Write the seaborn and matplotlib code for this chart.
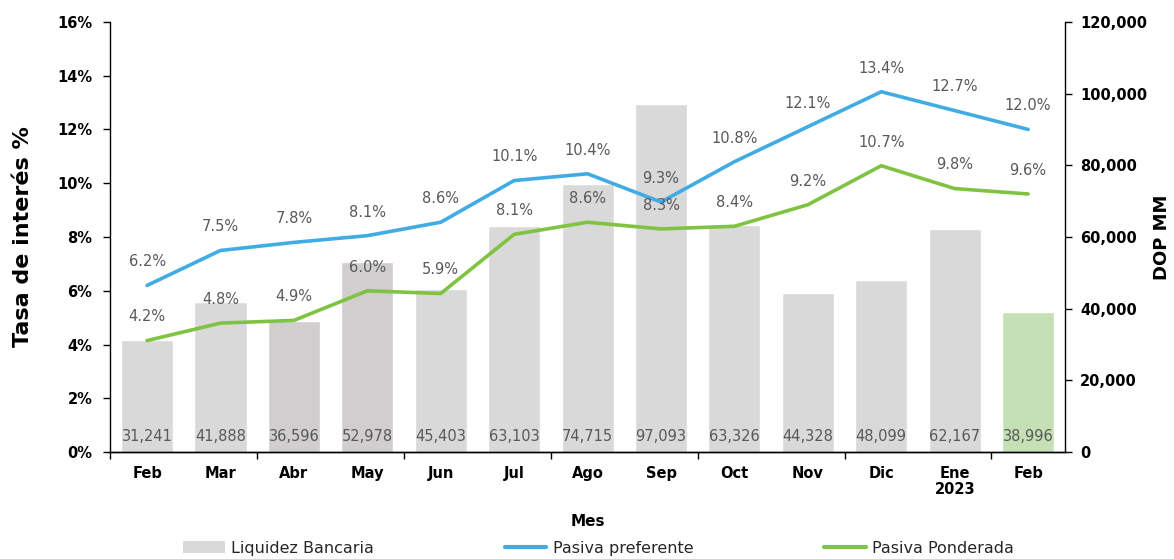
import numpy as np
import matplotlib
matplotlib.use('Agg')
import matplotlib.pyplot as plt
import seaborn as sns
from matplotlib.patches import Patch
from matplotlib.lines import Line2D
from matplotlib.ticker import FuncFormatter, FixedLocator

# Datos del gráfico
meses = ['Feb', 'Mar', 'Abr', 'May', 'Jun', 'Jul', 'Ago', 'Sep', 'Oct', 'Nov', 'Dic', 'Ene\n2023', 'Feb']
liquidez = [31241, 41888, 36596, 52978, 45403, 63103, 74715, 97093, 63326, 44328, 48099, 62167, 38996]
pasiva_preferente = [6.2, 7.5, 7.8, 8.05, 8.55, 10.1, 10.35, 9.3, 10.8, 12.1, 13.4, 12.7, 12.0]
pasiva_ponderada = [4.15, 4.8, 4.9, 6.0, 5.9, 8.1, 8.55, 8.3, 8.4, 9.2, 10.65, 9.8, 9.6]
etiq_preferente = ['6.2%', '7.5%', '7.8%', '8.1%', '8.6%', '10.1%', '10.4%', '9.3%', '10.8%', '12.1%', '13.4%', '12.7%', '12.0%']
etiq_ponderada = ['4.2%', '4.8%', '4.9%', '6.0%', '5.9%', '8.1%', '8.6%', '8.3%', '8.4%', '9.2%', '10.7%', '9.8%', '9.6%']

AZUL = '#41ace4'
VERDE = '#80c342'
GRIS = '#d9d9d9'
GRIS_OSC = '#d0cece'
VERDE_CLARO = '#c5e0b4'
TEXTO = '#595959'

sns.set_style('white')
plt.rcParams['font.family'] = ['DejaVu Sans']

pos = np.arange(len(meses))
colores_barras = [GRIS, GRIS, GRIS_OSC, GRIS_OSC] + [GRIS] * 8 + [VERDE_CLARO]

fig, ax = plt.subplots(figsize=(11.74, 5.59), dpi=100)
fig.subplots_adjust(left=0.094, right=0.907, top=0.961, bottom=0.191)
ax2 = ax.twinx()

# Barras en el eje derecho
sns.barplot(x=pos, y=liquidez, hue=pos, palette=colores_barras, legend=False,
            width=0.71, saturation=1, ax=ax2)
for i, v in enumerate(liquidez):
    ax2.text(i, 0.037, f'{v:,}', transform=ax2.get_xaxis_transform(),
             ha='center', va='center', fontsize=10.5, color=TEXTO)

# Lineas en el eje izquierdo
sns.lineplot(x=pos, y=pasiva_preferente, color=AZUL, linewidth=2.6, ax=ax)
sns.lineplot(x=pos, y=pasiva_ponderada, color=VERDE, linewidth=2.6, ax=ax)
for i in pos:
    ax.annotate(etiq_preferente[i], (i, pasiva_preferente[i]), xytext=(0, 17),
                textcoords='offset points', ha='center', va='center', fontsize=10.5, color=TEXTO)
    ax.annotate(etiq_ponderada[i], (i, pasiva_ponderada[i]), xytext=(0, 17),
                textcoords='offset points', ha='center', va='center', fontsize=10.5, color=TEXTO)

ax.set_zorder(ax2.get_zorder() + 1)
ax.patch.set_visible(False)

ax.set_xlim(-0.5, len(meses) - 0.5)
ax.set_ylim(0, 16)
ax2.set_ylim(0, 120000)
ax.set_yticks(np.arange(0, 17, 2))
ax.yaxis.set_major_formatter(FuncFormatter(lambda v, p: f'{v:.0f}%'))
ax2.set_yticks(np.arange(0, 120001, 20000))
ax2.yaxis.set_major_formatter(FuncFormatter(lambda v, p: f'{v:,.0f}'))

ax.set_xticks(pos)
ax.set_xticklabels(meses, fontweight='bold', fontsize=10.5, va='top', linespacing=1.1)
ax.xaxis.set_minor_locator(FixedLocator(np.arange(-0.5, 12, 2)))
ax.tick_params(axis='x', which='major', length=0, pad=10, bottom=True, labelbottom=True,
               labelcolor='black')
ax.tick_params(axis='x', which='minor', length=5, width=1, direction='out', color='black', bottom=True)

for a in (ax, ax2):
    for s in ['left', 'right', 'bottom']:
        a.spines[s].set_color('black')
        a.spines[s].set_linewidth(1)
    a.spines['top'].set_visible(False)
ax.spines['right'].set_visible(False)
ax2.spines['left'].set_visible(False)

ax.tick_params(axis='y', length=5, width=1, color='black', left=True, labelsize=10.5,
               pad=8, labelcolor='black')
ax2.tick_params(axis='y', length=5, width=1, color='black', right=True, labelsize=10.5,
                pad=6, labelcolor='black')
for lbl in ax.get_yticklabels() + ax2.get_yticklabels():
    lbl.set_fontweight('bold')

ax.set_ylabel('Tasa de interés %', fontsize=16, fontweight='bold', labelpad=17, color='black')
ax2.set_ylabel('DOP MM', fontsize=13, fontweight='bold', labelpad=4, color='black')
ax.set_xlabel('Mes', fontsize=11, fontweight='bold', labelpad=12, color='black')

handles = [Patch(facecolor=GRIS, edgecolor='none'),
           Line2D([0], [0], color=AZUL, linewidth=3),
           Line2D([0], [0], color=VERDE, linewidth=3)]
fig.legend(handles, ['Liquidez Bancaria', 'Pasiva preferente', 'Pasiva Ponderada'],
           loc='lower center', bbox_to_anchor=(0.51, -0.02), ncol=3, frameon=False,
           fontsize=11.5, columnspacing=8.2, handlelength=2.6, handleheight=0.8, handletextpad=0.4)

fig.savefig('out.png', dpi=100)
